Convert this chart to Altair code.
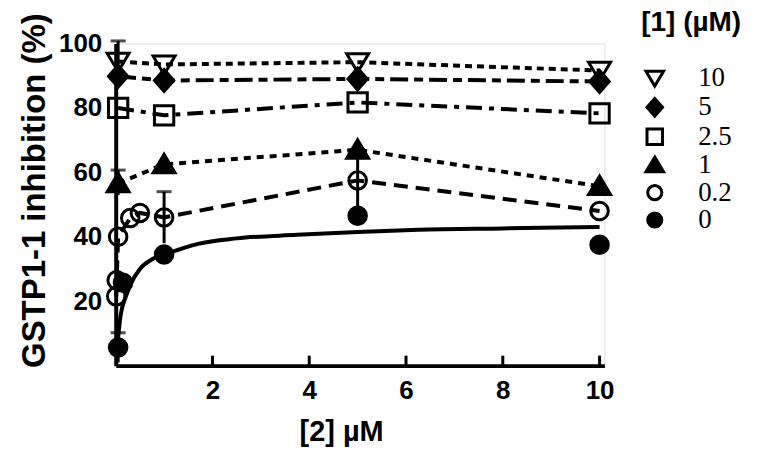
import altair as alt
import pandas as pd

# ---- data ----
series = ["10", "5", "2.5", "1", "0.2", "0"]
shapes = [
    "M-1.25,-0.95L1.25,-0.95L0,1.15Z",          # open triangle down
    "M0,-1.25L1.1,0L0,1.25L-1.1,0Z",             # filled diamond
    "M-1.1,-1.1L1.1,-1.1L1.1,1.1L-1.1,1.1Z",     # open square
    "M0,-1.15L1.25,0.95L-1.25,0.95Z",            # filled triangle up
    "circle", "circle",
]
fills = ["transparent", "black", "transparent", "black", "transparent", "black"]
strokes = ["black"] * 6

x_10 = [0.05, 1, 5, 10]
y_10 = [94.4, 93.5, 94.2, 91.6]
x_5 = [0.05, 1, 5, 10]
y_5 = [89.8, 88.5, 89.0, 88.2]
x_25 = [0.05, 1, 5, 10]
y_25 = [80.0, 77.7, 81.7, 78.3]
x_1 = [0.05, 1, 5, 10]
y_1 = [56.6, 62.5, 67.0, 55.7]
x_02 = [0.01, 0.02, 0.05, 0.3, 0.5, 1, 5, 10]
y_02 = [21.5, 26.5, 40.0, 45.8, 47.4, 46.0, 57.5, 48.0]
x_0 = [0.05, 0.15, 1, 5, 10]
y_0 = [5.6, 25.7, 34.5, 46.5, 37.5]

# fitted curve for [1] = 0
fit_x = [0.03, 0.1, 0.2, 0.3, 0.5, 0.75, 1, 1.4, 1.7, 2.5, 3.75, 5, 6.25, 8, 10]
fit_y = [5.5, 15.5, 21.0, 25.0, 30.0, 33.0, 34.5, 36.5, 37.8, 39.5, 40.6, 41.5, 42.2, 42.6, 43.0]

# error bars
err_series = ["10", "1", "0.2", "0.2", "0"]
err_x = [0.05, 0.05, 1, 5, 0.05]
err_lo = [88.0, 53.0, 38.0, 47.5, 1.0]
err_hi = [100.8, 60.7, 54.0, 67.0, 10.2]

x_ticks = [2, 4, 6, 8, 10]
y_ticks = [20, 40, 60, 80, 100]

dashes = {"10": [7, 5], "5": [18, 6, 9, 6], "2.5": [16, 7, 5, 7], "1": [7, 6], "0.2": [14, 8]}

# ---- tables ----
rows = []
for s, xs_, ys_ in [("10", x_10, y_10), ("5", x_5, y_5), ("2.5", x_25, y_25),
                    ("1", x_1, y_1), ("0.2", x_02, y_02), ("0", x_0, y_0)]:
    for a, b in zip(xs_, ys_):
        rows.append({"series": s, "grp": s, "x": a, "y": b})
df = pd.DataFrame(rows)
df_lines = df[df.series != "0"]
df_fit = pd.DataFrame({"x": fit_x, "y": fit_y})
df_err = pd.DataFrame({"series": err_series, "x": err_x, "lo": err_lo, "hi": err_hi})
df_ticks = pd.DataFrame({"x": x_ticks})

BOLD = "Liberation Sans"
W, H = 490, 323

xs = alt.Scale(domain=[0, 10.1], nice=False, zero=True)
ys = alt.Scale(domain=[0, 100], nice=False)

x_axis = alt.Axis(values=x_ticks, ticks=False, grid=False, domainWidth=4, domainColor="black",
                  labelFont=BOLD, labelFontWeight="bold", labelFontSize=26, labelColor="black",
                  labelPadding=12, title="[2] µM", titleFont=BOLD, titleFontSize=29,
                  titleFontWeight="bold", titleColor="black", titleX=226, titleY=52,
                  titleBaseline="top")
y_axis = alt.Axis(values=y_ticks, ticks=False, grid=False, domainWidth=4, domainColor="black",
                  labelFont=BOLD, labelFontWeight="bold", labelFontSize=26, labelColor="black",
                  labelPadding=14, title="GSTP1-1 inhibition (%)", titleFont=BOLD,
                  titleFontSize=33, titleFontWeight="bold", titleColor="black",
                  titleX=-64, titleY=147, titleAngle=270, titleBaseline="bottom", titleAlign="center")

X = alt.X("x:Q", scale=xs, axis=x_axis)
Y = alt.Y("y:Q", scale=ys, axis=y_axis)

lines = alt.Chart(df_lines).mark_line(strokeWidth=4, color="black").encode(
    x=X, y=Y,
    detail="grp:N",
    strokeDash=alt.StrokeDash("grp:N", scale=alt.Scale(domain=list(dashes.keys()),
                                                      range=list(dashes.values())), legend=None),
    order="x:Q",
)

fit = alt.Chart(df_fit).mark_line(strokeWidth=4, color="black", interpolate="monotone").encode(
    x=alt.X("x:Q", scale=xs), y=alt.Y("y:Q", scale=ys))

err = alt.Chart(df_err).mark_rule(strokeWidth=3, color="black").encode(
    x=alt.X("x:Q", scale=xs), y=alt.Y("lo:Q", scale=ys), y2="hi:Q")
caps = alt.Chart(df_err).mark_tick(orient="horizontal", size=15, thickness=3, color="black").encode(
    x=alt.X("x:Q", scale=xs), y=alt.Y("hi:Q", scale=ys))

ticks = alt.Chart(df_ticks).mark_rule(strokeWidth=3, color="black").encode(
    x=alt.X("x:Q", scale=xs), y=alt.value(H), y2=alt.value(H - 10))

legend = alt.Legend(title="[1] (µM)", orient="none", legendX=527, legendY=-35,
                    titleFont=BOLD, titleFontSize=28, titleFontWeight="bold", titleColor="black",
                    titlePadding=28, titleLimit=300, labelFont="Liberation Serif", labelFontSize=27,
                    labelColor="black", labelOffset=30, symbolSize=200, symbolStrokeWidth=3,
                    symbolStrokeColor="black", rowPadding=-0.5)

pts = alt.Chart(df).mark_point(filled=True, size=310, strokeWidth=3, stroke="black", opacity=1).encode(
    x=alt.X("x:Q", scale=xs), y=alt.Y("y:Q", scale=ys),
    shape=alt.Shape("series:N", scale=alt.Scale(domain=series, range=shapes), legend=legend),
    fill=alt.Fill("series:N", scale=alt.Scale(domain=series, range=fills), legend=legend),
    stroke=alt.Stroke("series:N", scale=alt.Scale(domain=series, range=strokes), legend=legend),
)

chart = alt.layer(lines, fit, err, caps, ticks, pts).properties(
    width=W, height=H,
    padding={"left": 10, "top": 0, "right": 10, "bottom": 0},
).configure_view(stroke=None).configure(background="white")

chart.save("out.html", embed_options={"renderer": "svg", "actions": False})
